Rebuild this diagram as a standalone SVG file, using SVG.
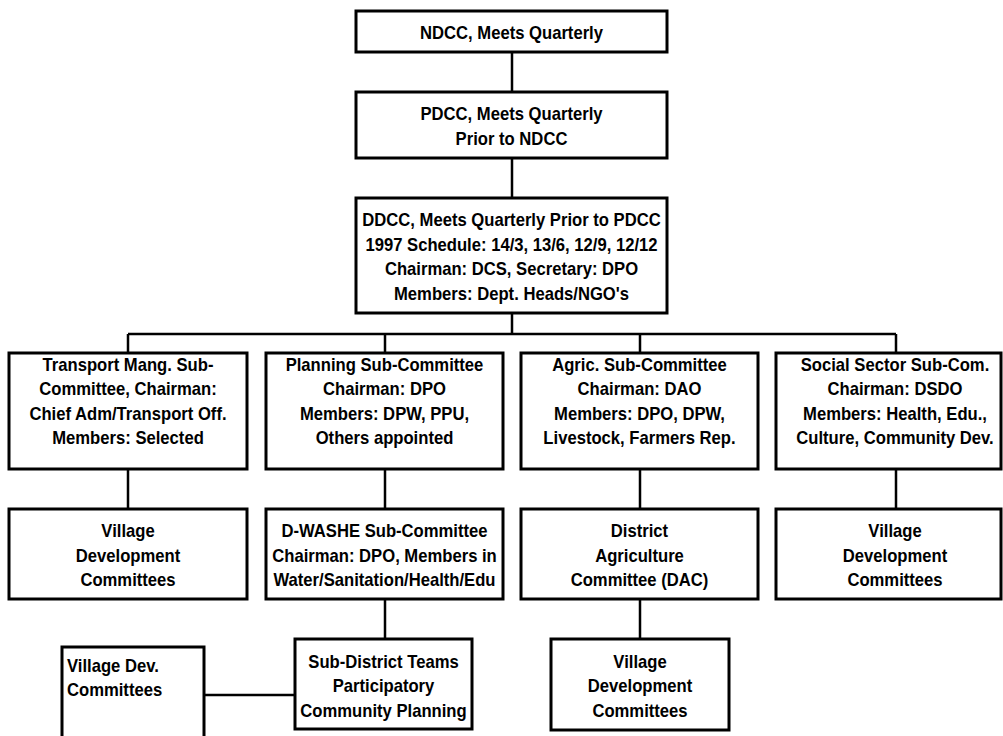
<svg xmlns="http://www.w3.org/2000/svg" width="1003" height="736" viewBox="0 0 1003 736">
<style>
.box{fill:#fff;stroke:#000;stroke-width:3}
.c{stroke:#000;stroke-width:2.5;fill:none}
text{font-family:"Liberation Sans",Arial,sans-serif;font-weight:bold;font-size:18.5px;fill:#000;text-anchor:middle}
.l{text-anchor:start}
</style>
<rect width="1003" height="736" fill="#fff"/>
<g id="connectors">
<path class="c" d="M512 52V92M512 158V198M512 313V334M128 334H896M128 334V353M385 334V353M640 334V353M896 334V353M128 469V509M385 469V509M640 469V509M896 469V509M385 599V639M640 599V639M204 695H295"/>
</g>
<g id="ndcc"><rect class="box" x="356" y="11" width="311" height="41"/><text transform="translate(511.5 39) scale(0.9 1)">NDCC, Meets Quarterly</text></g>
<g id="pdcc"><rect class="box" x="356" y="92" width="311" height="66"/><text transform="translate(511.5 120) scale(0.9 1)">PDCC, Meets Quarterly</text><text transform="translate(511.5 145) scale(0.9 1)">Prior to NDCC</text></g>
<g id="ddcc"><rect class="box" x="356" y="198" width="311" height="115"/><text transform="translate(511.5 226) scale(0.9 1)">DDCC, Meets Quarterly Prior to PDCC</text><text transform="translate(511.5 251) scale(0.9 1)">1997 Schedule: 14/3, 13/6, 12/9, 12/12</text><text transform="translate(511.5 275) scale(0.9 1)">Chairman: DCS, Secretary: DPO</text><text transform="translate(511.5 300) scale(0.9 1)">Members: Dept. Heads/NGO's</text></g>
<g id="transport"><rect class="box" x="9" y="353" width="238" height="116"/><text transform="translate(128 371) scale(0.9 1)">Transport Mang. Sub-</text><text transform="translate(128 395) scale(0.9 1)">Committee, Chairman:</text><text transform="translate(128 420) scale(0.9 1)">Chief Adm/Transport Off.</text><text transform="translate(128 444) scale(0.9 1)">Members: Selected</text></g>
<g id="planning"><rect class="box" x="266" y="353" width="237" height="116"/><text transform="translate(384.5 371) scale(0.9 1)">Planning Sub-Committee</text><text transform="translate(384.5 395) scale(0.9 1)">Chairman: DPO</text><text transform="translate(384.5 420) scale(0.9 1)">Members: DPW, PPU,</text><text transform="translate(384.5 444) scale(0.9 1)">Others appointed</text></g>
<g id="agric"><rect class="box" x="521" y="353" width="237" height="116"/><text transform="translate(639.5 371) scale(0.9 1)">Agric. Sub-Committee</text><text transform="translate(639.5 395) scale(0.9 1)">Chairman: DAO</text><text transform="translate(639.5 420) scale(0.9 1)">Members: DPO, DPW,</text><text transform="translate(639.5 444) scale(0.9 1)">Livestock, Farmers Rep.</text></g>
<g id="social"><rect class="box" x="776" y="353" width="225" height="116"/><text transform="translate(895 371) scale(0.9 1)">Social Sector Sub-Com.</text><text transform="translate(895 395) scale(0.9 1)">Chairman: DSDO</text><text transform="translate(895 420) scale(0.9 1)">Members: Health, Edu.,</text><text transform="translate(895 444) scale(0.9 1)">Culture, Community Dev.</text></g>
<g id="vdc1"><rect class="box" x="9" y="509" width="238" height="90"/><text transform="translate(128 537) scale(0.9 1)">Village</text><text transform="translate(128 562) scale(0.9 1)">Development</text><text transform="translate(128 586) scale(0.9 1)">Committees</text></g>
<g id="dwashe"><rect class="box" x="266" y="509" width="237" height="90"/><text transform="translate(384.5 537) scale(0.9 1)">D-WASHE Sub-Committee</text><text transform="translate(384.5 562) scale(0.9 1)">Chairman: DPO, Members in</text><text transform="translate(384.5 586) scale(0.9 1)">Water/Sanitation/Health/Edu</text></g>
<g id="dac"><rect class="box" x="521" y="509" width="237" height="90"/><text transform="translate(639.5 537) scale(0.9 1)">District</text><text transform="translate(639.5 562) scale(0.9 1)">Agriculture</text><text transform="translate(639.5 586) scale(0.9 1)">Committee (DAC)</text></g>
<g id="vdc4"><rect class="box" x="776" y="509" width="225" height="90"/><text transform="translate(895 537) scale(0.9 1)">Village</text><text transform="translate(895 562) scale(0.9 1)">Development</text><text transform="translate(895 586) scale(0.9 1)">Committees</text></g>
<g id="vdc-left"><rect class="box" x="62" y="647" width="142" height="100"/><text class="l" transform="translate(67 672) scale(0.9 1)">Village Dev.</text><text class="l" transform="translate(67 696) scale(0.9 1)">Committees</text></g>
<g id="subdistrict"><rect class="box" x="295" y="639" width="177" height="90"/><text transform="translate(383.5 668) scale(0.9 1)">Sub-District Teams</text><text transform="translate(383.5 692) scale(0.9 1)">Participatory</text><text transform="translate(383.5 717) scale(0.9 1)">Community Planning</text></g>
<g id="vdc-dac"><rect class="box" x="551" y="639" width="178" height="91"/><text transform="translate(640 668) scale(0.9 1)">Village</text><text transform="translate(640 692) scale(0.9 1)">Development</text><text transform="translate(640 717) scale(0.9 1)">Committees</text></g>
</svg>
